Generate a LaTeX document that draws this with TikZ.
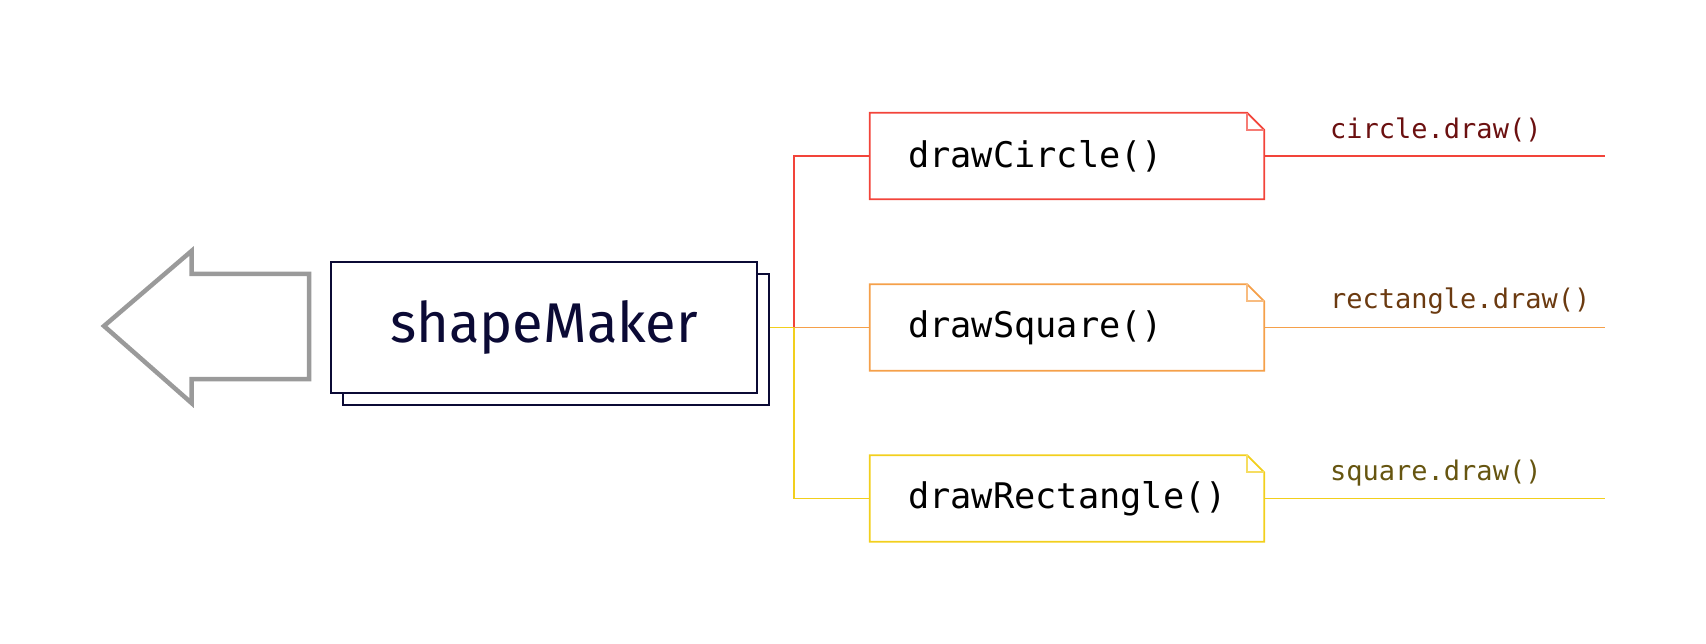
\documentclass[tikz,border=0pt]{standalone}
\usepackage{fontspec}
\setmainfont{Fira Sans}
\newfontfamily\codefont{DejaVu Sans Mono}
\definecolor{navy}{HTML}{0B0A35}
\definecolor{cred}{HTML}{F2443A}
\definecolor{corange}{HTML}{F5A04A}
\definecolor{cyellow}{HTML}{F2CF1D}
\definecolor{lred}{HTML}{6B1010}
\definecolor{lbrown}{HTML}{6B3A10}
\definecolor{lolive}{HTML}{665510}
\definecolor{agray}{HTML}{9A9A9A}
\tikzset{
  mainbox/.style={draw=navy, fill=white, line width=1.8pt, minimum width=426pt, minimum height=131pt, inner sep=0pt},
  notebox/.style={draw=none, minimum width=394pt, minimum height=86pt, text width=318pt, align=left, inner xsep=38pt, inner ysep=0pt, font=\codefont\fontsize{35.3}{40}\selectfont},
  lbl/.style={anchor=west, inner sep=0pt, font=\codefont\fontsize{27}{32}\selectfont},
  wire/.style={line width=1.8pt},
}
\newcommand{\notepath}[2]{%
  \draw[#2, line width=1.8pt, line join=miter] (#1.south west) -- (#1.north west) -- ([xshift=-17pt]#1.north east) -- ([yshift=-17pt]#1.north east) -- (#1.south east) -- cycle;
  \draw[#2!70!white, line width=1.8pt] ([xshift=-17pt]#1.north east) |- ([yshift=-17pt]#1.north east);
}
\begin{document}
\begin{tikzpicture}[x=1pt, y=-1pt]
\useasboundingbox (0,0) rectangle (1706,644);
% big arrow
\draw[agray, line width=4.5pt, line join=miter] (104,326) -- (191.5,251) -- (191.5,274) -- (309,274) -- (309,379) -- (191.5,379) -- (191.5,403) -- cycle;
% main box with shadow
\node[mainbox] (shadow) at (556,339.5) {};
\node[mainbox, font=\fontsize{56}{64}\selectfont, text=navy] (main) at (544,327.5) {shapeMaker};
% note boxes
\node[notebox] (circ) at (1067,156) {\raisebox{-2pt}{drawCircle()}};
\node[notebox] (sq) at (1067,327.5) {\raisebox{-2pt}{drawSquare()}};
\node[notebox] (rect) at (1067,498.5) {\raisebox{-2pt}{drawRectangle()}};
\notepath{circ}{cred}
\notepath{sq}{corange}
\notepath{rect}{cyellow}
% connectors
\coordinate (J) at (794,327.5);
\draw[wire, cyellow] (main.east -| shadow.east) -- (J) |- (rect.west);
\draw[wire, cred] (J) |- (circ.west);
\draw[wire, corange] (J) -- (sq.west);
\coordinate (ce) at (1605,156);
\coordinate (se) at (1605,327.5);
\coordinate (re) at (1605,498.5);
\draw[wire, cred] (circ.east) -- (ce);
\draw[wire, corange] (sq.east) -- (se);
\draw[wire, cyellow] (rect.east) -- (re);
% labels
\node[lbl, text=lred] (l1) at (1330,130) {circle.draw()};
\node[lbl, text=lbrown] (l2) at (1330,301) {rectangle.draw()};
\node[lbl, text=lolive] (l3) at (1330,473) {square.draw()};
\end{tikzpicture}
\end{document}
